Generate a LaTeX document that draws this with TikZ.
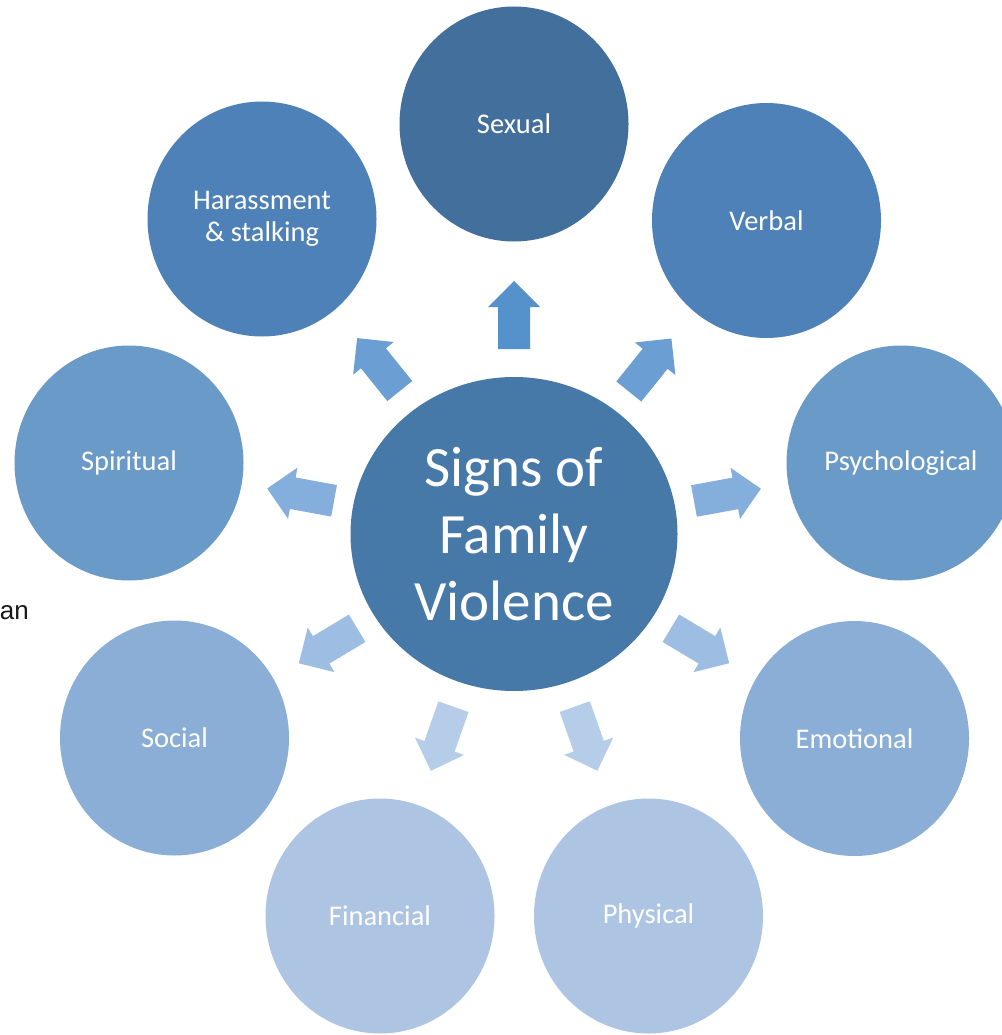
\documentclass[tikz,border=0pt]{standalone}
\usepackage{fontspec}
\setmainfont{Carlito}
\newfontfamily\arialfont{Liberation Sans}
\usetikzlibrary{shapes.geometric,calc}
\definecolor{cCenter}{HTML}{4779A8}
\definecolor{cSex}{HTML}{426F9B}
\definecolor{cL1}{HTML}{4E81B8}
\definecolor{cL2}{HTML}{6A9AC7}
\definecolor{cL3}{HTML}{8AAED5}
\definecolor{cL4}{HTML}{ADC5E3}
\definecolor{aA}{HTML}{5592CB}
\definecolor{aB}{HTML}{6B9FD3}
\definecolor{aC}{HTML}{84AEDC}
\definecolor{aD}{HTML}{9DBDE2}
\definecolor{aE}{HTML}{B5CDE8}
\tikzset{
  child/.style={ellipse, minimum width=229pt, minimum height=235pt, inner sep=0pt,
    text=white, font=\fontsize{28.5}{32}\selectfont, align=center},
  hub/.style={ellipse, minimum width=327pt, minimum height=314pt, inner sep=0pt,
    fill=cCenter, text=white, font=\fontsize{57}{67}\selectfont, align=center},
  blockarrow/.pic={\fill[pic actions] (-34,-16) -- (8,-16) -- (8,-26) -- (34,0) -- (8,26) -- (8,16) -- (-34,16) -- cycle;}
}
\begin{document}
\begin{tikzpicture}[x=1pt,y=-1pt]
\useasboundingbox (0,0) rectangle (1001,1035);
\fill[white] (0,0) rectangle (1001,1035);
\node[hub] (C) at (514,534) {Signs of\\Family\\Violence};
\node[child, fill=cSex] (S) at (514,124) {Sexual};
\node[child, fill=cL1] (V) at (766.5,220.5) {Verbal};
\node[child, fill=cL2] (P) at (901,463) {Psychological};
\node[child, fill=cL3] (E) at (854.5,738.5) {Emotional};
\node[child, fill=cL4] (Ph) at (648.5,916) {Physical};
\node[child, fill=cL4] (F) at (380,916) {Financial};
\node[child, fill=cL3] (So) at (174.5,738) {Social};
\node[child, fill=cL2] (Sp) at (129,463) {Spiritual};
\node[child, fill=cL1] (H) at (262,219) {Harassment\\\&~stalking};
\coordinate (aS) at ($(C)!219pt!(S)$);
\coordinate (aV) at ($(C)!217pt!(V)$);
\coordinate (aP) at ($(C)!217pt!(P)$);
\coordinate (aE) at ($(C)!217pt!(E)$);
\coordinate (aPh) at ($(C)!217pt!(Ph)$);
\coordinate (aF) at ($(C)!217pt!(F)$);
\coordinate (aSo) at ($(C)!217pt!(So)$);
\coordinate (aSp) at ($(C)!217pt!(Sp)$);
\coordinate (aH) at ($(C)!217pt!(H)$);
\pic[fill=aA, rotate=90] at (aS) {blockarrow};
\pic[fill=aB, rotate=51.2] at (aV) {blockarrow};
\pic[fill=aB, rotate=128.8] at (aH) {blockarrow};
\pic[fill=aC, rotate=10.4] at (aP) {blockarrow};
\pic[fill=aC, rotate=169.6] at (aSp) {blockarrow};
\pic[fill=aD, rotate=-31] at (aE) {blockarrow};
\pic[fill=aD, rotate=-149] at (aSo) {blockarrow};
\pic[fill=aE, rotate=-70.6] at (aPh) {blockarrow};
\pic[fill=aE, rotate=-109.4] at (aF) {blockarrow};
\node[anchor=base east, inner sep=0pt, text=black!90, font=\arialfont\fontsize{26}{30}\selectfont] (an) at (29,619) {an};
\end{tikzpicture}
\end{document}
